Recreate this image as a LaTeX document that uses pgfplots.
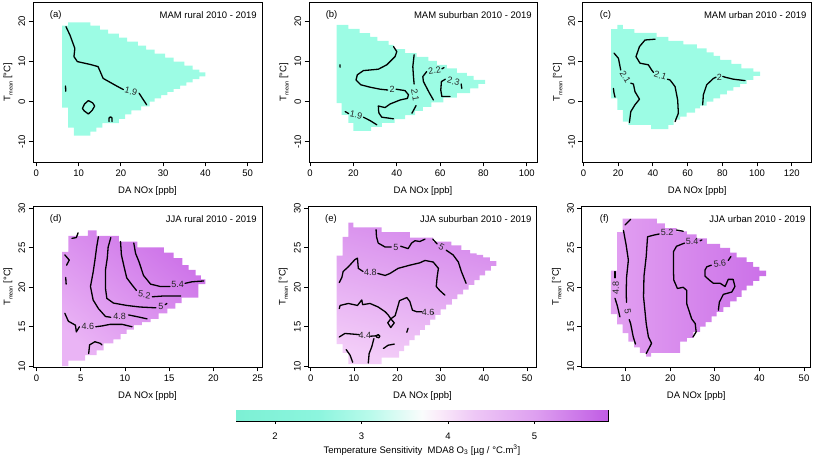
\documentclass[border=0pt]{standalone}
\usepackage{pgfplots}
\pgfplotsset{compat=1.18}
\usepackage{fontspec}
\setmainfont{Liberation Sans}
\definecolor{aqua}{RGB}{156,252,228}
\definecolor{dlight}{RGB}{234,180,245}
\definecolor{ddark}{RGB}{204,112,232}
\definecolor{elight}{RGB}{243,205,248}
\definecolor{edark}{RGB}{213,136,236}
\definecolor{flight}{RGB}{226,160,241}
\definecolor{fdark}{RGB}{203,112,232}
\tikzset{
  clab/.style={font=\fontsize{9bp}{10bp}\selectfont, text=black!85, inner sep=0pt},
  ptag/.style={inner sep=0pt, anchor=center},
  ttl/.style={inner sep=0pt, anchor=east},
  cline/.style={black, line width=1.3bp, line join=round, line cap=round},
}
\pgfplotsset{
  colormap={tsens}{rgb255(155pt)=(124,240,212); rgb255(250pt)=(140,245,222); rgb255(310pt)=(185,250,235); rgb255(370pt)=(250,252,252); rgb255(390pt)=(250,235,250); rgb255(430pt)=(238,200,246); rgb255(500pt)=(222,160,240); rgb255(585pt)=(192,92,228)},
  every axis/.append style={font=\fontsize{9.5bp}{11bp}\selectfont},
  panel/.style={
    scale only axis, width=229bp, height=160bp, anchor=south west,
    axis line style={line width=0.8bp},
    every tick/.style={black, line width=0.8bp},
    tick align=outside, major tick length=4.5bp, tick pos=left,
    /pgf/number format/assume math mode=true,
    yticklabel style={rotate=90, anchor=south, inner sep=3bp},
    xticklabel style={anchor=north, inner sep=3bp},
    xlabel={DA NOx [ppb]},
    xlabel style={at={(axis description cs:0.5,0)}, anchor=center, yshift=-29bp},
    ylabel={T\raisebox{-0.45ex}{\fontsize{5.5bp}{6bp}\selectfont mean} [°C]},
    ylabel style={at={(axis description cs:0,0.5)}, anchor=center, yshift=25bp},
  },
}
\begin{document}
\begin{tikzpicture}
\useasboundingbox (0,0) rectangle (813bp,459bp);

% ---------------- (a)
\begin{axis}[panel, at={(33bp,297bp)}, xmin=-0.8, xmax=53.4, ymin=-15.1, ymax=24.9,
  xtick={0,10,20,30,40,50}, ytick={-10,0,10,20}]
\addplot[draw=none, fill=aqua] coordinates {
(6.1,19) (7.5,19) (7.5,19.8) (12.8,19.8) (12.8,19) (15,19) (15,18) (17,18) (17,17) (19.5,17) (19.5,16) (21.5,16) (21.5,15) (24,15) (24,14) (26,14) (26,13) (28,13) (28,12) (30.5,12) (30.5,11) (32.5,11) (32.5,10) (35,10) (35,9) (37,9) (37,8) (38.6,8) (38.6,7.3) (40,7.3) (40,6.3)
(38.6,6.3) (38.6,5.6) (37,5.6) (37,4.8) (35.5,4.8) (35.5,4) (34,4) (34,3.2) (32.5,3.2) (32.5,2.4) (31,2.4) (31,1.6) (29.5,1.6) (29.5,0.8) (28,0.8) (28,0) (26.8,0) (26.8,-1.2) (24.8,-1.2) (24.8,-2.2) (22.5,-2.2) (22.5,-3.2) (21,-3.2) (21,-4.3) (19.5,-4.3) (19.5,-5.4) (15.6,-5.4) (15.6,-6.5) (14.2,-6.5) (14.2,-7.5) (12.8,-7.5) (12.8,-8.5) (8.9,-8.5) (8.9,-6.5) (7.5,-6.5) (7.5,-1.5) (6.1,-1.5)} -- cycle;
\addplot[cline] coordinates {(7,18.75) (8,16.5) (9.1,13.3) (8.9,11.25) (9.7,10) (12.7,9.3) (14.6,8.75) (15.8,5.8) (19,3.9) (20.6,3.0)};
\addplot[cline] coordinates {(24.3,2.1) (26.1,-0.8)};
\addplot[cline] coordinates {(12.3,0.25) (13.3,-0.3) (13.8,-1.1) (13.2,-2.2) (12.3,-3.1) (11.3,-2.3) (10.9,-1.7) (11.4,-0.6) (12.3,0.25)};
\addplot[cline] coordinates {(6.9,3.9) (6.95,2.6)};
\addplot[cline] coordinates {(17.2,-5) (17.2,-4.1) (17.55,-3.8) (17.9,-4.1) (17.9,-5)};
\node[clab, rotate=-15] at (axis cs:22.4,2.5) {1.9};
\node[ptag] at (axis description cs:0.099,0.92) {(a)};
\node[ttl] at (axis description cs:0.978,0.92) {MAM rural 2010 - 2019};
\end{axis}

% ---------------- (b)
\begin{axis}[panel, at={(309bp,297bp)}, width=228bp, xmin=-0.5, xmax=104.7, ymin=-15.1, ymax=24.9,
  xtick={0,20,40,60,80,100}, ytick={-10,0,10,20}]
\addplot[draw=none, fill=aqua] coordinates {
(12.3,19.2) (17.7,19.2) (17.7,18.2) (22.8,18.2) (22.8,17.1) (27.7,17.1) (27.7,16.2) (31.1,16.2) (31.1,15.2) (36.2,15.2) (36.2,14.2) (38.5,14.2) (38.5,13.1) (43.8,13.1) (43.8,12.1) (49.2,12.1) (49.2,11.2) (54.6,11.2) (54.6,10.2) (58.5,10.2) (58.5,9.2) (63.1,9.2) (63.1,8.3) (67.7,8.3) (67.7,7.2) (72.3,7.2) (72.3,6.4) (75.4,6.4) (75.4,5.4) (80.8,5.4) (80.8,4.4)
(77.7,4.4) (77.7,3.3) (73.8,3.3) (73.8,2.1) (67.7,2.1) (67.7,1) (61.5,1) (61.5,-0.2) (56,-0.2) (56,-1.3) (52,-1.3) (52,-2.3) (48.5,-2.3) (48.5,-3.4) (43.8,-3.4) (43.8,-4.4) (39,-4.4) (39,-5.3) (33.1,-5.3) (33.1,-6.3) (28.2,-6.3) (28.2,-7.3) (20,-7.3) (20,-5.3) (17.7,-5.3) (17.7,-3.3) (14.6,-3.3) (14.6,-0.4) (12.3,-0.4)} -- cycle;
\addplot[cline] coordinates {(38.5,13.75) (40,12.5) (39.2,11.25) (35.4,9.2) (31.5,8.1) (24.6,7.75) (21.8,6.7) (21.2,5.4) (23.4,4.2) (27.7,3.6) (32.3,3.1) (35.8,2.9)};
\addplot[cline] coordinates {(39.7,3.1) (43.8,2.75) (45.4,1.7) (44.9,0.8) (41.5,0.4) (36.9,-0.6) (34.6,-1.5) (31.5,-1.1) (31.6,-2.2) (31.8,-2.9) (33.1,-3.9) (38.5,-4.3)};
\addplot[cline] coordinates {(16.2,-2.5) (17.8,-3.0)};
\addplot[cline] coordinates {(24.6,-3.9) (27.7,-4.75) (30.8,-5.8)};
\addplot[cline] coordinates {(13.8,9.2) (13.85,8.6)};
\addplot[cline] coordinates {(48,11.7) (47.4,8.75) (47.7,6.25) (48,4.4)};
\addplot[cline] coordinates {(48.9,-1.0) (47,-2.9)};
\addplot[cline] coordinates {(56.9,0.4) (55.1,2.1) (52.3,5) (52,6.25) (53.8,7.5)};
\addplot[cline] coordinates {(60.8,8.2) (61.8,8.5)};
\addplot[cline] coordinates {(64.6,1.25) (60.8,1.25) (60.3,2.9) (60.6,5) (62.4,5.6)};
\addplot[cline] coordinates {(69.7,4.4) (70,3.3)};
\node[clab] at (axis cs:37.8,3.1) {2};
\node[clab, rotate=-12] at (axis cs:21.2,-3.4) {1.9};
\node[clab, rotate=-82] at (axis cs:48.5,1.7) {2.1};
\node[clab, rotate=10] at (axis cs:57.4,7.8) {2.2};
\node[clab, rotate=-15] at (axis cs:66.1,5.0) {2.3};
\node[ptag] at (axis description cs:0.099,0.92) {(b)};
\node[ttl] at (axis description cs:0.978,0.92) {MAM suburban 2010 - 2019};
\end{axis}

% ---------------- (c)
\begin{axis}[panel, at={(582.7bp,297bp)}, xmin=-0.4, xmax=131.5, ymin=-15.1, ymax=24.9,
  xtick={0,20,40,60,80,100,120}, ytick={-10,0,10,20}]
\addplot[draw=none, fill=aqua] coordinates {
(15.9,18.1) (19.6,18.1) (19.6,19.2) (22.7,19.2) (22.7,18.1) (29.4,18.1) (29.4,17.2) (42.2,17.2) (42.2,16.2) (49,16.2) (49,15.2) (57.6,15.2) (57.6,14.3) (65.3,14.3) (65.3,13.3) (71,13.3) (71,12.3) (75,12.3) (75,11.4) (78.7,11.4) (78.7,10.4) (85.3,10.4) (85.3,9.4) (91,9.4) (91,8.3) (97.9,8.3) (97.9,7.5) (101.8,7.5) (101.8,6.4)
(97.9,6.4) (97.9,5.4) (94,5.4) (94,4.4) (90.2,4.4) (90.2,3.6) (86.4,3.6) (86.4,2.75) (82.6,2.75) (82.6,1.8) (78.7,1.8) (78.7,0.8) (74.9,0.8) (74.9,0) (71,0) (71,-1) (67.2,-1) (67.2,-1.7) (64.3,-1.7) (64.3,-2.75) (59.5,-2.75) (59.5,-3.75) (55.7,-3.75) (55.7,-4.5) (52,-4.5) (52,-5.8) (49,-5.8) (49,-6.9) (39,-6.9) (39,-5.8) (25.9,-5.8) (25.9,-5) (22.7,-5) (22.7,-2.1) (19.6,-2.1) (19.6,0.8) (15.9,0.8)} -- cycle;
\addplot[cline] coordinates {(17.7,12.1) (20.2,10.8) (21.1,8.75) (21.5,7.9)};
\addplot[cline] coordinates {(27.3,4.6) (28.8,4.4) (29.7,2.5) (32.3,0.6) (29.7,-0.8) (27.3,-2.5) (26.5,-5.25)};
\addplot[cline] coordinates {(17.3,3.3) (17.6,2.2) (18.2,1.1)};
\addplot[cline] coordinates {(41.3,15.6) (35.5,15.4) (32.3,13.75) (30.3,11.25) (32.6,9.6) (37.4,9.2) (39.3,7.9) (40.4,7.3)};
\addplot[cline] coordinates {(48.4,5.6) (49.9,5.4) (52.8,3.75) (54.3,0.4) (54.7,-2.9) (52.8,-5)};
\addplot[cline] coordinates {(68.7,-0.8) (69.1,1.7) (71,4.2) (74.9,5.8) (76.4,6.1)};
\addplot[cline] coordinates {(80.3,6.3) (81.6,6.1) (86.4,5.6) (93.1,5.25)};
\node[clab, rotate=-58] at (axis cs:24.2,6.1) {2.1};
\node[clab, rotate=-18] at (axis cs:44.3,6.5) {2.1};
\node[clab] at (axis cs:78.3,6.1) {2};
\node[ptag] at (axis description cs:0.099,0.92) {(c)};
\node[ttl] at (axis description cs:0.978,0.92) {MAM urban 2010 - 2019};
\end{axis}

% ---------------- (d)
\begin{axis}[panel, at={(33bp,92bp)}, height=161bp, xmin=-0.4, xmax=25.5, ymin=9.9, ymax=30.3,
  xtick={0,5,10,15,20,25}, ytick={10,15,20,25,30}]
\addplot[draw=none, top color=ddark, bottom color=dlight, shading angle=-40] coordinates {
(2.9,24.5) (3.6,24.5) (3.6,26.5) (5.8,26.5) (5.8,27.2) (6.8,27.2) (6.8,26.5) (9.3,26.5) (9.3,25.8) (11.4,25.8) (11.4,25.05) (14.4,25.05) (14.4,24.4) (15.5,24.4) (15.5,23.7) (16.5,23.7) (16.5,22.8) (17.2,22.8) (17.2,22.2) (18,22.2) (18,21.5) (18.6,21.5) (18.6,21) (19.1,21) (19.1,20.4)
(18.3,20.4) (18.3,18.7) (16.4,18.7) (16.4,18) (15.7,18) (15.7,17.3) (14.8,17.3) (14.8,16.7) (13.8,16.7) (13.8,16) (12.9,16) (12.9,15.6) (11.9,15.6) (11.9,15.2) (11,15.2) (11,14.65) (10.2,14.65) (10.2,14.1) (9.5,14.1) (9.5,13.4) (8.7,13.4) (8.7,12.9) (7.6,12.9) (7.6,12) (6.8,12) (6.8,11.4) (5.5,11.4) (5.5,10.7) (3.6,10.7) (3.6,10) (2.9,10)} -- cycle;
\addplot[cline] coordinates {(11,25.6) (11.2,24.3) (11.6,23.2) (12.1,21.5) (12.9,20.4) (14,20.1) (15.1,20.1)};
\addplot[cline] coordinates {(16.8,20.5) (17.6,20.7) (18.9,20.8)};
\addplot[cline] coordinates {(9.5,25.8) (9.6,24.1) (9.9,22.6) (10.2,21.2) (10.8,20.3) (11.3,19.6)};
\addplot[cline] coordinates {(13.1,18.8) (14.4,18.9) (16.3,18.9)};
\addplot[cline] coordinates {(8.4,26.3) (8.1,25.1) (8,23.7) (7.8,22.2) (7.8,19.85) (7.95,18.6) (8.7,18) (10.2,17.7) (11.7,17.5) (13.5,17.4)};
\addplot[cline] coordinates {(14.55,17.8) (14.75,17.95)};
\addplot[cline] coordinates {(7,26.4) (6.8,25.1) (6.6,23.4) (6.4,21.9) (6.1,20.1) (6.4,18.4) (7,17.3) (7.8,16.3) (8.4,16.2)};
\addplot[cline] coordinates {(10.4,16.5) (11.7,16.2) (12.5,16)};
\addplot[cline] coordinates {(3.2,16.7) (3.6,15.7) (4.4,15.2) (4.5,14.35) (4.85,15)};
\addplot[cline] coordinates {(6.7,15) (7.4,15.1) (8.3,15.3) (9.7,15.3) (10.8,15)};
\addplot[cline] coordinates {(3.2,24.1) (3.7,23.45) (3.4,22.8)};
\addplot[cline] coordinates {(3.3,21.25) (3.35,20.4)};
\addplot[cline] coordinates {(4,26.2) (4.5,26.3) (4.7,26.9)};
\addplot[cline] coordinates {(5.9,11.6) (6,12.7) (6.6,13.1) (7.2,12.9) (7.4,12.7)};
\node[clab] at (axis cs:15.95,20.3) {5.4};
\node[clab, rotate=-8] at (axis cs:12.2,19.05) {5.2};
\node[clab] at (axis cs:14.05,17.55) {5};
\node[clab] at (axis cs:9.4,16.3) {4.8};
\node[clab] at (axis cs:5.8,15.1) {4.6};
\node[ptag] at (axis description cs:0.099,0.917) {(d)};
\node[ttl] at (axis description cs:0.978,0.917) {JJA rural 2010 - 2019};
\end{axis}

% ---------------- (e)
\begin{axis}[panel, at={(308.3bp,92bp)}, width=228.4bp, height=161bp, xmin=-0.55, xmax=52.2, ymin=9.9, ymax=30.3,
  xtick={0,10,20,30,40,50}, ytick={10,15,20,25,30}]
\addplot[draw=none, top color=edark, bottom color=elight, shading angle=-15] coordinates {
(6,24) (7.4,24) (7.4,26.4) (8.7,26.4) (8.7,28.2) (9.85,28.2) (9.85,27.6) (16.4,27.6) (16.4,27) (22.9,27) (22.9,26.3) (28.3,26.3) (28.3,25.8) (32.5,25.8) (32.5,25.3) (34.8,25.3) (34.8,24.7) (36.8,24.7) (36.8,24.3) (38.3,24.3) (38.3,24.1) (39.8,24.1) (39.8,23.8) (41.4,23.8) (41.4,23.3) (42.9,23.3) (42.9,22.7)
(41.6,22.7) (41.6,22.1) (40.3,22.1) (40.3,21.5) (39,21.5) (39,20.9) (37.8,20.9) (37.8,20.3) (36.5,20.3) (36.5,19.7) (35.2,19.7) (35.2,19.1) (33.9,19.1) (33.9,18.5) (32.6,18.5) (32.6,17.8) (31.3,17.8) (31.3,17.2) (30,17.2) (30,16.5) (28.8,16.5) (28.8,15.9) (27.6,15.9) (27.6,15.2) (26.4,15.2) (26.4,14.6) (25.2,14.6) (25.2,13.9) (24,13.9) (24,13.3) (22.8,13.3) (22.8,12.6) (21.6,12.6) (21.6,11.9) (20.4,11.9) (20.4,11.1) (16.4,11.1) (16.4,10.25) (8.7,10.25) (8.7,11.7) (7.4,11.7) (7.4,12.8) (6,12.8)} -- cycle;
\addplot[cline] coordinates {(15.1,27.3) (15.2,26.4) (15.6,25.6) (17.2,25.1) (18.6,25.1)};
\addplot[cline] coordinates {(20.8,25.2) (22.5,24.9) (23.3,25.6) (24.1,25.9) (25.2,25.8) (26.4,26.1)};
\addplot[cline] coordinates {(28.2,26.1) (29.2,25.5)};
\addplot[cline] coordinates {(31.3,24.7) (32.9,24.1) (34.1,23.2) (34.8,22) (35.6,20.9) (35.9,20.5)};
\addplot[cline] coordinates {(6.6,20.6) (7.2,21.25) (7.5,22) (8.7,22.6) (10.2,23.5) (10.8,23.7) (11,22.4) (12.1,22)};
\addplot[cline] coordinates {(15.5,21.75) (17.2,21.5) (18.3,21.75) (20.2,22.4) (22.9,22.8) (25.2,23.1) (26.4,23.4) (28.3,23.2) (29.5,22.4) (29.2,21.3) (29,20.1) (29.8,19.6) (31,19)};
\addplot[cline] coordinates {(6.6,17.3) (6.8,17.7) (8.7,17.95) (10.8,17.7) (11.8,18.4) (12,17.8) (13.7,17.95) (15.6,17.5) (17.2,16.9) (17.9,16.5) (18.5,16.0) (17.8,15.5) (18.5,14.9) (19.3,15.5) (18.5,16.0) (19.5,16.4) (20.2,17.7) (20.5,18.3) (22.2,18.7) (22.9,18.2) (23.5,17.1) (24.5,16.9) (25.7,16.9)};
\addplot[cline] coordinates {(28.25,16.75) (28.4,16.7)};
\addplot[cline] coordinates {(6.6,13.7) (7.9,14.15) (10.2,14.05) (11.2,14)};
\addplot[cline] coordinates {(13.8,13.8) (15.1,13.85) (15.6,14.0) (16,13.8) (15.7,13.6) (15.2,13.7)};
\addplot[cline] coordinates {(14.6,13.5) (14.1,12.45) (13.5,11.6) (13.3,10.4)};
\addplot[cline] coordinates {(8.2,12.1) (9.1,11.4) (9.7,10.5)};
\addplot[cline] coordinates {(16.8,12.25) (17.9,12.66) (19.3,12.8)};
\addplot[cline] coordinates {(22.2,14.3) (22.5,14.8)};
\node[clab] at (axis cs:19.7,25.1) {5};
\node[clab, rotate=-30] at (axis cs:30.25,25.1) {5};
\node[clab] at (axis cs:13.8,21.85) {4.8};
\node[clab] at (axis cs:27.1,16.8) {4.6};
\node[clab] at (axis cs:12.5,13.9) {4.4};
\node[ptag] at (axis description cs:0.099,0.917) {(e)};
\node[ttl] at (axis description cs:0.978,0.917) {JJA suburban 2010 - 2019};
\end{axis}

% ---------------- (f)
\begin{axis}[panel, at={(581.7bp,92bp)}, height=161bp, xmin=0.13, xmax=51.5, ymin=9.9, ymax=30.3,
  xtick={10,20,30,40,50}, ytick={10,15,20,25,30}]
\addplot[draw=none, left color=flight, right color=fdark] coordinates {
(6.7,22.1) (8.1,22.1) (8.1,27) (9.3,27) (9.3,28.7) (17,28.7) (17,28.1) (18.8,28.1) (18.8,27.5) (21.4,27.5) (21.4,27.1) (23.7,27.1) (23.7,26.7) (25.9,26.7) (25.9,26.2) (28.2,26.2) (28.2,25.5) (31.2,25.5) (31.2,25) (33.4,25) (33.4,24.4) (34.9,24.4) (34.9,23.8) (37.1,23.8) (37.1,23.2) (38.6,23.2) (38.6,22.6) (40,22.6) (40,22.1) (41.5,22.1) (41.5,21.4)
(40,21.4) (40,20.8) (38.6,20.8) (38.6,20.2) (37.1,20.2) (37.1,19.6) (36,19.6) (36,18.8) (34.9,18.8) (34.9,18.2) (33.4,18.2) (33.4,17.5) (31.9,17.5) (31.9,16.9) (30.4,16.9) (30.4,16.3) (29.3,16.3) (29.3,15.6) (27.9,15.6) (27.9,15) (26.7,15) (26.7,14.35) (25.2,14.35) (25.2,13.6) (23.7,13.6) (23.7,13.1) (22.2,13.1) (22.2,11.7) (15.7,11.7) (15.7,11.2) (14.6,11.2) (14.6,11.7) (13.2,11.7) (13.2,12.4) (11.9,12.4) (11.9,13.1) (10.6,13.1) (10.6,14.2) (9.3,14.2) (9.3,15.3) (8.1,15.3) (8.1,16.6) (6.7,16.6)} -- cycle;
\addplot[cline] coordinates {(7.6,22) (7.6,21.2)};
\addplot[cline] coordinates {(7.6,18.6) (8.1,17.7) (8.7,16.25)};
\addplot[cline] coordinates {(9.85,27.9) (11.1,28.6)};
\addplot[cline] coordinates {(9.5,27.2) (10.1,25.35) (10.6,23.45) (10.2,21.3) (10.1,19.2) (10.2,18.1)};
\addplot[cline] coordinates {(10.8,15.9) (11.1,15.4) (11.7,13.7) (12.2,12.8)};
\addplot[cline] coordinates {(17.5,26.75) (16.2,26.6) (14.9,26.4) (14.6,23.9) (14.1,21.4) (14,18.8) (14.6,15.4) (15.1,13.7) (15.8,12.9) (14.6,11.6)};
\addplot[cline] coordinates {(21.4,27.25) (22.9,27.1)};
\addplot[cline] coordinates {(23.2,25.6) (21.4,25.2) (20.7,24.5) (20.7,22.2) (20.8,20.9) (21.6,19.85) (22.9,20) (23.7,19.6) (23.7,17.9) (24.8,16) (25.6,15.4) (25.8,14.35) (25.1,13.7)};
\addplot[cline] coordinates {(26.7,25.9) (27.1,26.0)};
\addplot[cline] coordinates {(29.2,22.8) (28.2,22.6) (27.8,22.2) (27.8,21.4) (29,20.8) (29.7,20.5) (31.2,20.5) (32.3,20.1) (33,21) (34.1,21) (34.5,20.1) (33.8,19.4) (31.9,19.1) (31,18.1) (30.8,17.1)};
\addplot[cline] coordinates {(33,23.4) (33.6,23.9)};
\node[clab, rotate=90] at (axis cs:7.8,19.9) {4.8};
\node[clab, rotate=-80] at (axis cs:10.45,17) {5};
\node[clab] at (axis cs:19.3,26.95) {5.2};
\node[clab] at (axis cs:24.9,25.75) {5.4};
\node[clab, rotate=8] at (axis cs:31.1,23.0) {5.6};
\node[ptag] at (axis description cs:0.099,0.917) {(f)};
\node[ttl] at (axis description cs:0.978,0.917) {JJA urban 2010 - 2019};
\end{axis}

% ---------------- colour bar
\begin{axis}[at={(236bp,38bp)}, anchor=south west, scale only axis, width=372bp, height=11bp,
  xmin=1.55, xmax=5.85, ymin=0, ymax=1, ytick=\empty, xtick={2,3,4,5},
  axis line style={line width=0.8bp}, every tick/.style={black, line width=0.8bp},
  tick align=outside, major tick length=3bp, tick pos=left,
  /pgf/number format/assume math mode=true,
  xticklabel style={anchor=north, inner sep=3bp, yshift=-6bp},
  colormap name=tsens, point meta min=1.55, point meta max=5.85,
  xlabel={Temperature Sensitivity\ \ MDA8 O\textsubscript{3} [µg / °C.m\textsuperscript{3}]},
  xlabel style={at={(axis description cs:0.5,0)}, anchor=center, yshift=-29bp}]
\addplot[surf, shader=interp, point meta=x] coordinates {(1.55,0) (5.85,0)

(1.55,1) (5.85,1)};
\end{axis}
\end{tikzpicture}
\end{document}
